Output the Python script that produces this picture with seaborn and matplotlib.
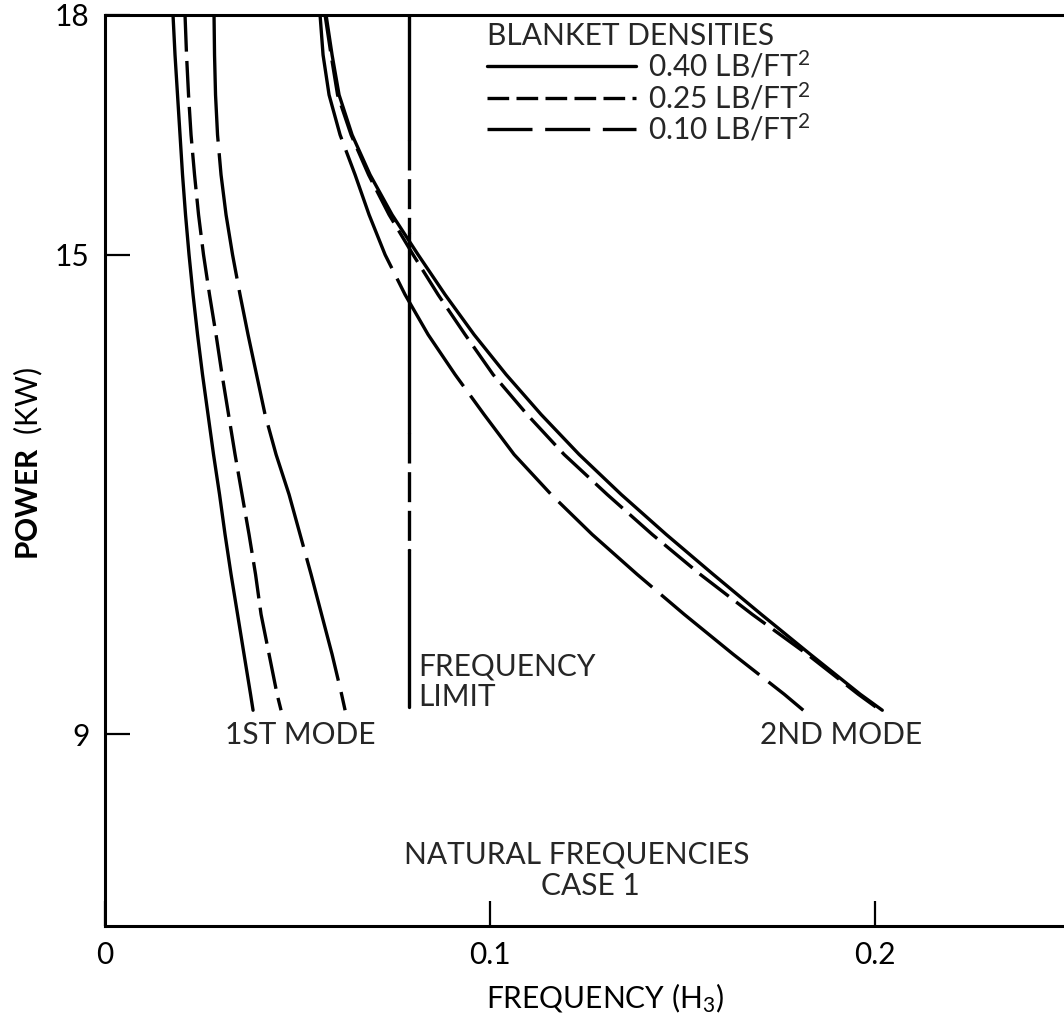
import numpy as np
import pandas as pd
import matplotlib
matplotlib.use("Agg")
import matplotlib.pyplot as plt
import seaborn as sns

# ---------------- data ----------------
power_levels = [18.0, 17.5, 17.0, 16.5, 16.0, 15.5, 15.0, 14.5, 14.0, 13.5,
                13.0, 12.5, 12.0, 11.5, 11.0, 10.5, 10.0, 9.5, 9.3]

mode1_040 = [0.01766, 0.01818, 0.01883, 0.01948, 0.02013, 0.02091, 0.02182, 0.02286,
             0.02403, 0.02532, 0.02675, 0.02818, 0.02974, 0.03117, 0.03273, 0.03442,
             0.03610, 0.03779, 0.03844]
mode1_025 = [0.02078, 0.02117, 0.02169, 0.02234, 0.02325, 0.02429, 0.02558, 0.02714,
             0.02883, 0.03039, 0.03208, 0.03377, 0.03558, 0.03740, 0.03909, 0.04052,
             0.04260, 0.04468, 0.04571]
mode1_010 = [0.02831, 0.02844, 0.02870, 0.02922, 0.03013, 0.03143, 0.03312, 0.03506,
             0.03714, 0.03935, 0.04156, 0.04442, 0.04779, 0.05065, 0.05351, 0.05623,
             0.05896, 0.06143, 0.06234]

mode2_040 = [0.05740, 0.05896, 0.06078, 0.06416, 0.06883, 0.07455, 0.08130, 0.08831,
             0.09584, 0.10416, 0.11325, 0.12312, 0.13403, 0.14571, 0.15792, 0.17039,
             0.18312, 0.19610, 0.20182]
mode2_025 = [0.05714, 0.05870, 0.06039, 0.06390, 0.06844, 0.07377, 0.08000, 0.08649,
             0.09351, 0.10078, 0.10961, 0.11922, 0.13039, 0.14208, 0.15455, 0.16805,
             0.18234, 0.19558, 0.20130]
mode2_010 = [0.05584, 0.05662, 0.05818, 0.06104, 0.06494, 0.06857, 0.07273, 0.07792,
             0.08390, 0.09091, 0.09844, 0.10623, 0.11584, 0.12649, 0.13818, 0.15039,
             0.16312, 0.17636, 0.18130]

densities = ["0.40", "0.25", "0.10"]
density_labels = ["0.40 LB/FT$^2$", "0.25 LB/FT$^2$", "0.10 LB/FT$^2$"]

freq_limit = 0.079
# frequency-limit line drawn in pieces (power start, power end, style)
limit_pieces = [(18.0, 16.44, "solid"), (16.44, 15.27, "dashed"),
                (15.27, 12.77, "solid"), (12.77, 11.30, "dashed"),
                (11.30, 9.34, "solid")]

xticks = [0, 0.1, 0.2]
xticklabels = ["0", "0.1", "0.2"]
yticks = [9, 15, 18]

rows = []
for mode, series in [("1", [mode1_040, mode1_025, mode1_010]),
                     ("2", [mode2_040, mode2_025, mode2_010])]:
    for dens, xs in zip(densities, series):
        for f, p in zip(xs, power_levels):
            rows.append({"freq": f, "power": p, "density": dens, "mode": mode})
df = pd.DataFrame(rows)

# ---------------- style ----------------
sns.set_theme(style="white")
plt.rcParams["font.family"] = ["Lato", "DejaVu Sans"]
plt.rcParams["mathtext.fontset"] = "custom"
plt.rcParams["mathtext.rm"] = "Lato"
plt.rcParams["mathtext.bf"] = "Lato:bold"
plt.rcParams["mathtext.it"] = "Lato"

FS = 21.5
LW = 2.4

fig = plt.figure(figsize=(10.64, 10.25), dpi=100)
ax = fig.add_axes([105 / 1064, 1 - 926 / 1025, 959 / 1064, (926 - 15) / 1025])

sns.lineplot(data=df, x="freq", y="power", hue="density", style="density",
             units="mode", estimator=None, sort=False,
             hue_order=densities, style_order=densities,
             palette={d: "black" for d in densities},
             dashes={"0.40": "", "0.25": (11, 2.8), "0.10": (38, 3.5)},
             linewidth=LW, ax=ax, legend=True)

for p0, p1, ls in limit_pieces:
    if ls == "dashed":
        ax.plot([freq_limit, freq_limit], [p0, p1], color="black", lw=LW,
                dashes=(9, 2.6))
    else:
        ax.plot([freq_limit, freq_limit], [p0, p1], color="black", lw=LW)

ax.set_xlim(0, 0.249)
ax.set_ylim(6.6, 18.0)
ax.set_xticks(xticks)
ax.set_xticklabels(xticklabels)
ax.set_yticks(yticks)
ax.tick_params(axis="both", direction="in", length=18, width=1.6,
               labelsize=FS, colors="black", pad=11)
ax.tick_params(axis="x", bottom=True, top=False)
ax.tick_params(axis="y", left=True, right=False)

for side in ["left", "bottom", "top"]:
    ax.spines[side].set_visible(True)
    ax.spines[side].set_color("black")
    ax.spines[side].set_linewidth(2.2)
ax.spines["right"].set_visible(False)

ax.set_xlabel("FREQUENCY (H$_3$)", fontsize=FS, color="black")
ax.xaxis.set_label_coords((605 - 105) / 959, (926 - 981) / 911)
ax.set_ylabel(r"$\mathbf{POWER}$  (KW)", fontsize=FS, color="black")
ax.yaxis.set_label_coords((28 - 105) / 959, (926 - 463) / 911)
ax.yaxis.label.set_va("center")

# annotations
ax.text(0.0506, 8.99, "1ST MODE", fontsize=FS, ha="center", va="center")
ax.text(0.191, 8.99, "2ND MODE", fontsize=FS, ha="center", va="center")
ax.text(0.0813, 9.66, "FREQUENCY\nLIMIT", fontsize=FS, ha="left", va="center",
        linespacing=1.1)
ax.text(0.1226, 7.49, "NATURAL FREQUENCIES", fontsize=FS, ha="center", va="center")
ax.text(0.1260, 7.10, "CASE 1", fontsize=FS, ha="center", va="center")

handles, labels = ax.get_legend_handles_labels()
hmap = dict(zip(labels, handles))
leg = ax.legend([hmap[d] for d in densities], density_labels,
                title="BLANKET DENSITIES", loc="upper left",
                bbox_to_anchor=((487 - 105) / 959, (926 - 22) / 911),
                frameon=False, fontsize=FS, title_fontsize=FS,
                handlelength=5.0, handletextpad=0.4, labelspacing=0.0,
                borderpad=0, borderaxespad=0, alignment="left")
legend_dashes = [None, (6.5, 2.2), (13.5, 3.8)]
for h, d in zip(leg.legend_handles, legend_dashes):
    h.set_linewidth(LW)
    if d is not None:
        h.set_dashes(d)

fig.savefig("out.png", dpi=100, facecolor="white")
